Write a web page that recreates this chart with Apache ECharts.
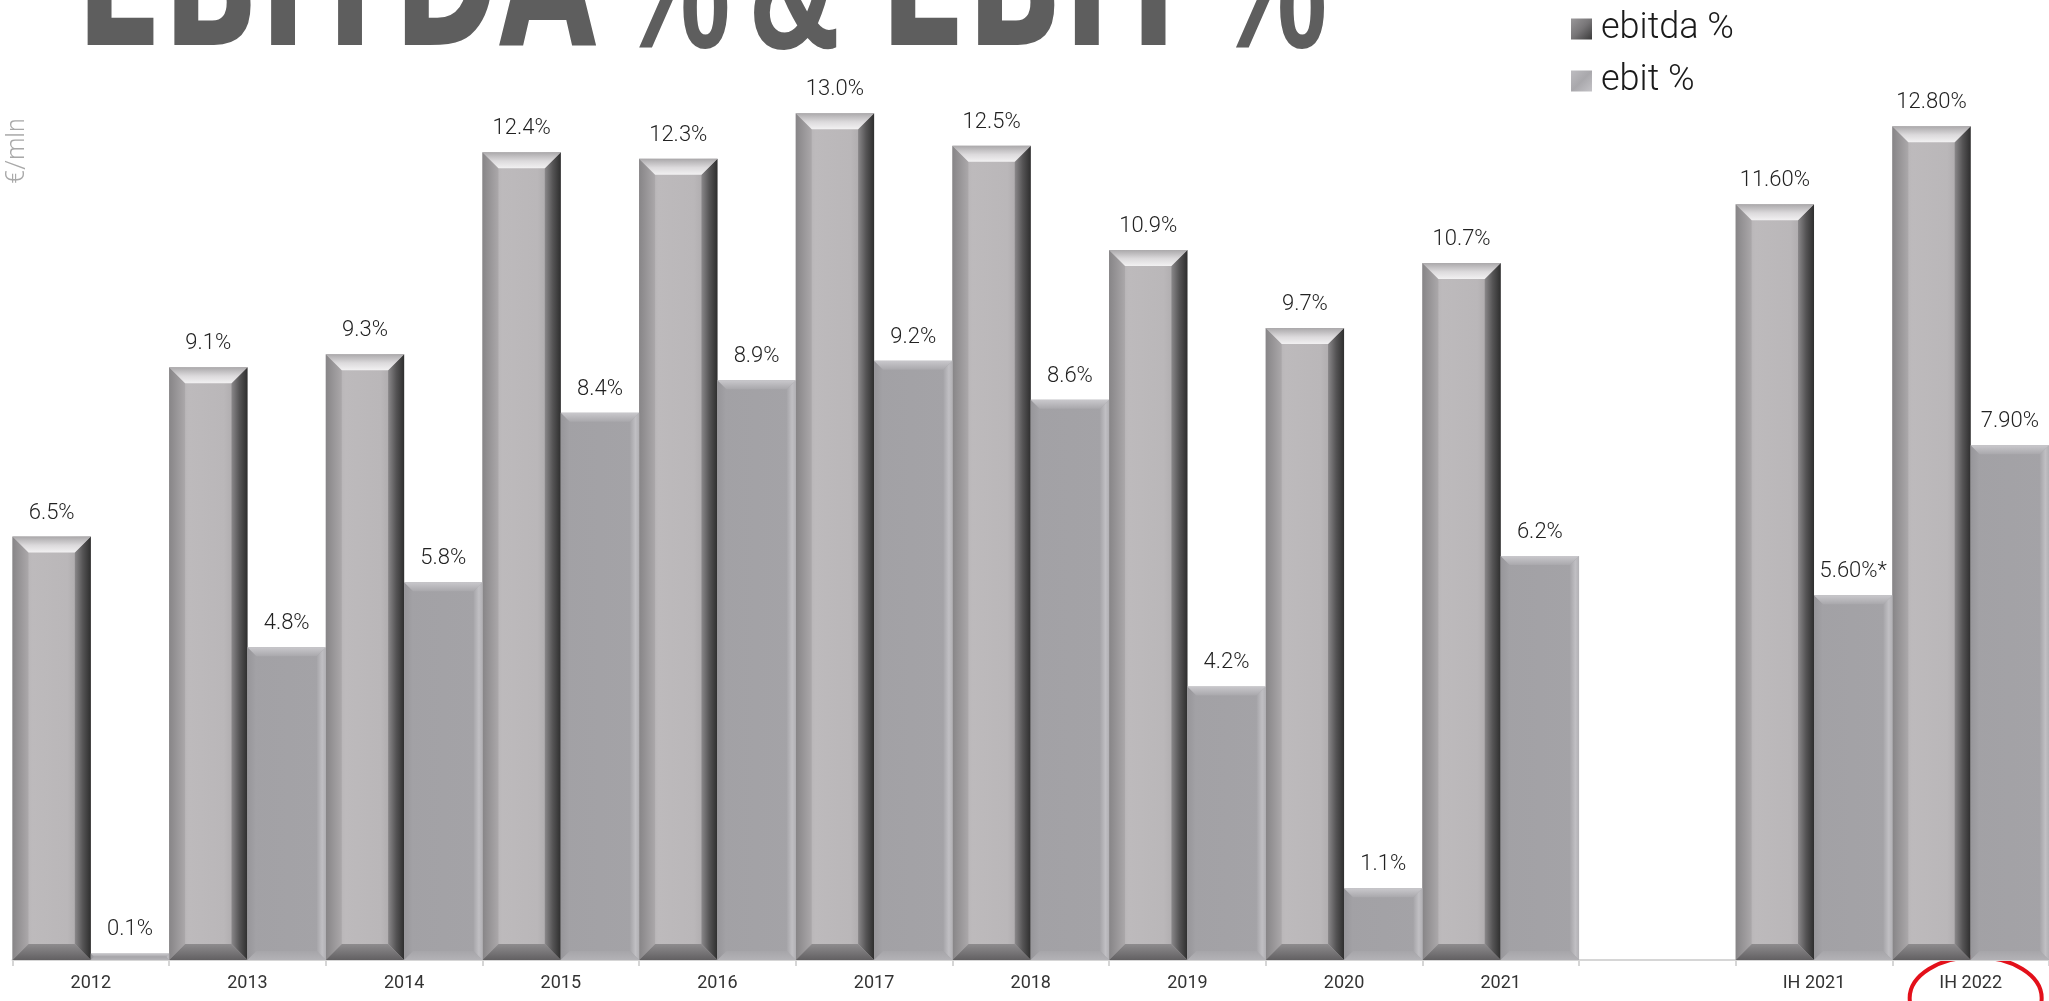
<!DOCTYPE html>
<html>
<head>
<meta charset="utf-8">
<title>EBITDA % & EBIT %</title>
<script src="https://cdn.jsdelivr.net/npm/echarts@6/dist/echarts.min.js"></script>
<style>
  html, body { margin: 0; padding: 0; background: #ffffff; }
  #chart { width: 2049px; height: 1001px; }
</style>
</head>
<body>
<div id="chart"></div>
<script>
// Periods on the x axis; the blank entry is a spacer between full years and half years
const categories = ['2012', '2013', '2014', '2015', '2016', '2017', '2018', '2019', '2020', '2021', '', 'IH 2021', 'IH 2022'];
// Margins in percent
const ebitdaPct = [6.5, 9.1, 9.3, 12.4, 12.3, 13.0, 12.5, 10.9, 9.7, 10.7, null, 11.6, 12.8];
const ebitPct   = [0.1, 4.8, 5.8, 8.4, 8.9, 9.2, 8.6, 4.2, 1.1, 6.2, null, 5.6, 7.9];
// Decimals shown in the value labels, and footnote markers on the ebit labels
const labelDecimals = [1, 1, 1, 1, 1, 1, 1, 1, 1, 1, 1, 2, 2];
const ebitNotes = ['', '', '', '', '', '', '', '', '', '', '', '*', ''];
const seriesNames = ['ebitda %', 'ebit %'];

function toPairs(values) {
  const out = [];
  values.forEach(function (v, i) { if (v !== null) out.push([i, v]); });
  return out;
}

function lin(x2, y2, stops) {
  return {
    type: 'linear', x: 0, y: 0, x2: x2, y2: y2,
    colorStops: stops.map(function (s) { return { offset: s[0], color: s[1] }; })
  };
}

const ebitdaPalette = {
  body:   [[0, '#aaa7a9'], [0.25, '#bdbabc'], [0.7, '#bab7b9'], [1, '#9e9b9d']],
  left:   [[0, '#878587'], [1, '#aba8aa']],
  right:  [[0, '#8a888a'], [0.5, '#555455'], [1, '#2e2e2e']],
  top:    [[0, '#aaa8aa'], [0.55, '#dcdadc'], [1, '#f2f1f2']],
  bottom: [[0, '#8e8c8e'], [1, '#626062']]
};
const ebitPalette = {
  body:   [[0, '#a2a1a5'], [1, '#a4a3a7']],
  left:   [[0, '#97969a'], [1, '#a3a2a6']],
  right:  [[0, '#a6a5a9'], [0.6, '#c0bfc3'], [1, '#b2b1b5']],
  top:    [[0, '#c9c8cc'], [1, '#a9a8ac']],
  bottom: [[0, '#a6a5a9'], [1, '#b3b2b6']]
};

// Bevelled bar: each series takes one half of the category band
function bevelBar(side, pal, bevel, labelOf) {
  return function (params, api) {
    const i = api.value(0), v = api.value(1);
    const p0 = api.coord([i, 0]), p1 = api.coord([i, v]);
    const band = api.size([1, 0])[0];
    const w = band / 2;
    const x0 = p0[0] - band / 2 + side * w, x1 = x0 + w;
    const y0 = p1[1], y1 = p0[1];
    const h = y1 - y0;
    const b = Math.min(bevel, h / 2, w / 2);
    return {
      type: 'group',
      children: [
        { type: 'rect', shape: { x: x0, y: y0, width: w, height: h }, style: { fill: lin(1, 0, pal.body) } },
        { type: 'polygon', shape: { points: [[x0, y0], [x0 + b, y0 + b], [x0 + b, y1 - b], [x0, y1]] }, style: { fill: lin(1, 0, pal.left) } },
        { type: 'polygon', shape: { points: [[x1, y0], [x1, y1], [x1 - b, y1 - b], [x1 - b, y0 + b]] }, style: { fill: lin(1, 0, pal.right) } },
        { type: 'polygon', shape: { points: [[x0, y0], [x1, y0], [x1 - b, y0 + b], [x0 + b, y0 + b]] }, style: { fill: lin(0, 1, pal.top) } },
        { type: 'polygon', shape: { points: [[x0 + b, y1 - b], [x1 - b, y1 - b], [x1, y1], [x0, y1]] }, style: { fill: lin(0, 1, pal.bottom) } },
        {
          type: 'text',
          style: {
            text: labelOf(i, v), x: (x0 + x1) / 2, y: y0 - 23.5,
            align: 'center', verticalAlign: 'middle',
            fontFamily: 'Roboto', fontWeight: 300, fontSize: 22, fill: '#222222'
          }
        }
      ]
    };
  };
}

function ebitdaLabel(i, v) { return v.toFixed(labelDecimals[i]) + '%'; }
function ebitLabel(i, v) { return v.toFixed(labelDecimals[i]) + '%' + ebitNotes[i]; }

const chart = echarts.init(document.getElementById('chart'), null, { renderer: 'canvas' });

const titleRich = {
  w:  { fontFamily: 'DejaVu Sans', fontWeight: 'bold', fontSize: 190, lineHeight: 190, fill: '#5e5e5e' },
  p:  { fontFamily: 'Liberation Sans', fontWeight: 'bold', fontSize: 190, lineHeight: 190, fill: '#5e5e5e' },
  s1: { fontFamily: 'DejaVu Sans', fontWeight: 'bold', fontSize: 90, lineHeight: 190 },
  s2: { fontFamily: 'DejaVu Sans', fontWeight: 'bold', fontSize: 77, lineHeight: 190 },
  s3: { fontFamily: 'DejaVu Sans', fontWeight: 'bold', fontSize: 170, lineHeight: 190 },
  s4: { fontFamily: 'DejaVu Sans', fontWeight: 'bold', fontSize: 75, lineHeight: 190 }
};

chart.setOption({
  animation: false,
  backgroundColor: '#ffffff',
  grid: { left: 12.5, top: 48, width: 2041, height: 912, containLabel: false },
  legend: {
    orient: 'vertical', left: 1566, top: 5,
    itemWidth: 21, itemHeight: 21, itemGap: 14,
    selectedMode: false,
    textStyle: { fontFamily: 'Roboto', fontWeight: 300, fontSize: 36, lineHeight: 38, color: '#1a1a1a', padding: [0, 0, 0, 4] },
    data: [
      { name: seriesNames[0], icon: 'rect', itemStyle: { color: lin(1, 1, [[0, '#9a989a'], [0.5, '#777577'], [1, '#3a3a3a']]) } },
      { name: seriesNames[1], icon: 'rect', itemStyle: { color: lin(1, 1, [[0, '#bdbcc0'], [0.5, '#a9a8ac'], [1, '#c4c3c7']]) } }
    ]
  },
  xAxis: {
    type: 'category', data: categories, boundaryGap: true,
    axisLine: { show: true, lineStyle: { color: '#d6d6d6', width: 2 } },
    axisTick: { show: true, length: 6, interval: 0, lineStyle: { color: '#d6d6d6', width: 2 } },
    axisLabel: { interval: 0, margin: 14, fontFamily: 'Roboto', fontSize: 18, color: '#333333' },
    splitLine: { show: false }
  },
  yAxis: { type: 'value', min: 0, max: 14, show: false },
  series: [
    {
      name: seriesNames[0], type: 'custom', itemStyle: { color: '#8f8d8f' },
      renderItem: bevelBar(0, ebitdaPalette, 16, ebitdaLabel),
      encode: { x: 0, y: 1 }, data: toPairs(ebitdaPct), clip: false
    },
    {
      name: seriesNames[1], type: 'custom', itemStyle: { color: '#a9a8ac' },
      renderItem: bevelBar(1, ebitPalette, 9, ebitLabel),
      encode: { x: 0, y: 1 }, data: toPairs(ebitPct), clip: false
    }
  ],
  graphic: [
    {
      id: 'title', type: 'text', x: 76, y: -4, scaleX: 0.668, scaleY: 1, silent: true,
      style: {
        text: '{w|EBITDA}{s1| }{p|%}{s2| }{p|&}{s3| }{w|EBIT}{s4| }{p|%}',
        rich: titleRich, align: 'left', verticalAlign: 'middle'
      }
    },
    {
      id: 'unit', type: 'text', x: 18, y: 151, rotation: Math.PI / 2, silent: true,
      style: { text: '€/mln', align: 'center', verticalAlign: 'middle', fontFamily: 'Roboto', fontWeight: 300, fontSize: 25, fill: '#a8a8a8' }
    }
  ]
});

// Highlight ring around the latest half-year label, placed from the axis scale
const hx = chart.convertToPixel({ xAxisIndex: 0 }, categories[categories.length - 1]);
const hy = chart.convertToPixel({ yAxisIndex: 0 }, 0);
chart.setOption({
  graphic: [
    {
      id: 'ring', type: 'ellipse', silent: true,
      shape: { cx: hx + 5, cy: hy + 38, rx: 66, ry: 41 },
      style: { fill: 'none', stroke: '#e3101a', lineWidth: 4 }
    }
  ]
});
</script>
</body>
</html>
